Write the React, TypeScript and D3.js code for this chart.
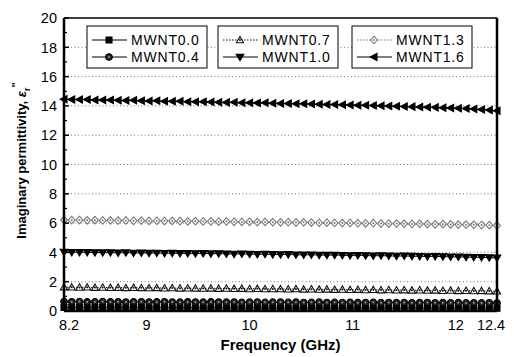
import * as d3 from 'd3';
import React from 'react';

// frequency grid (GHz)
const freq = [8.2, 8.275, 8.35, 8.425, 8.5, 8.575, 8.65, 8.725, 8.8, 8.875, 8.95, 9.025, 9.1, 9.175, 9.25, 9.325, 9.4, 9.475, 9.55, 9.625,
  9.7, 9.775, 9.85, 9.925, 10, 10.075, 10.15, 10.225, 10.3, 10.375, 10.45, 10.525, 10.6, 10.675, 10.75, 10.825, 10.9, 10.975, 11.05, 11.125,
  11.2, 11.275, 11.35, 11.425, 11.5, 11.575, 11.65, 11.725, 11.8, 11.875, 11.95, 12.025, 12.1, 12.175, 12.25, 12.325, 12.4];

const mwnt00 = [0.24, 0.23, 0.24, 0.22, 0.23, 0.24, 0.22, 0.23, 0.22, 0.23, 0.24, 0.22, 0.22, 0.23, 0.21, 0.22, 0.23, 0.22, 0.21, 0.22,
  0.23, 0.21, 0.22, 0.21, 0.22, 0.23, 0.21, 0.22, 0.21, 0.20, 0.22, 0.21, 0.22, 0.20, 0.21, 0.22, 0.20, 0.21, 0.20, 0.22,
  0.21, 0.20, 0.21, 0.20, 0.21, 0.22, 0.20, 0.21, 0.20, 0.21, 0.20, 0.19, 0.21, 0.20, 0.19, 0.20, 0.19];
const mwnt04 = [0.64, 0.63, 0.64, 0.62, 0.63, 0.64, 0.62, 0.63, 0.61, 0.62, 0.63, 0.61, 0.62, 0.63, 0.61, 0.60, 0.62, 0.61, 0.60, 0.62,
  0.61, 0.60, 0.61, 0.59, 0.60, 0.61, 0.59, 0.60, 0.61, 0.59, 0.60, 0.58, 0.59, 0.60, 0.58, 0.59, 0.58, 0.59, 0.57, 0.58,
  0.59, 0.57, 0.58, 0.57, 0.58, 0.56, 0.57, 0.58, 0.56, 0.57, 0.56, 0.57, 0.55, 0.56, 0.55, 0.56, 0.54];
const mwnt07 = [1.63, 1.62, 1.61, 1.62, 1.60, 1.61, 1.59, 1.60, 1.58, 1.59, 1.58, 1.57, 1.58, 1.56, 1.57, 1.55, 1.56, 1.55, 1.54, 1.55,
  1.53, 1.54, 1.52, 1.53, 1.51, 1.52, 1.50, 1.51, 1.50, 1.49, 1.50, 1.48, 1.49, 1.47, 1.48, 1.46, 1.47, 1.45, 1.46, 1.44,
  1.45, 1.43, 1.44, 1.42, 1.43, 1.41, 1.42, 1.40, 1.41, 1.39, 1.40, 1.38, 1.39, 1.37, 1.38, 1.36, 1.35];
const mwnt10 = [4.02, 4.01, 4.00, 4.01, 3.99, 3.98, 3.99, 3.97, 3.98, 3.96, 3.97, 3.95, 3.96, 3.94, 3.95, 3.93, 3.94, 3.92, 3.93, 3.91,
  3.92, 3.90, 3.89, 3.90, 3.88, 3.87, 3.88, 3.86, 3.85, 3.86, 3.84, 3.83, 3.84, 3.82, 3.81, 3.82, 3.80, 3.79, 3.80, 3.78,
  3.77, 3.78, 3.76, 3.75, 3.76, 3.74, 3.73, 3.72, 3.73, 3.71, 3.70, 3.69, 3.68, 3.67, 3.66, 3.64, 3.62];
const mwnt13 = [6.22, 6.20, 6.21, 6.19, 6.20, 6.18, 6.19, 6.17, 6.18, 6.16, 6.17, 6.15, 6.16, 6.14, 6.15, 6.13, 6.12, 6.13, 6.11, 6.12,
  6.10, 6.11, 6.09, 6.08, 6.09, 6.07, 6.08, 6.06, 6.05, 6.06, 6.04, 6.05, 6.03, 6.02, 6.03, 6.01, 6.00, 6.01, 5.99, 5.98,
  5.99, 5.97, 5.96, 5.97, 5.95, 5.94, 5.95, 5.93, 5.92, 5.93, 5.91, 5.90, 5.89, 5.88, 5.87, 5.86, 5.84];
const mwnt16 = [14.46, 14.44, 14.43, 14.44, 14.41, 14.40, 14.41, 14.38, 14.37, 14.38, 14.35, 14.34, 14.35, 14.32, 14.31, 14.32, 14.29, 14.28, 14.29, 14.26,
  14.25, 14.24, 14.25, 14.22, 14.21, 14.20, 14.21, 14.18, 14.17, 14.16, 14.15, 14.14, 14.13, 14.12, 14.10, 14.09, 14.08, 14.06, 14.05, 14.04,
  14.02, 14.01, 13.99, 13.98, 13.96, 13.95, 13.93, 13.91, 13.90, 13.88, 13.86, 13.84, 13.82, 13.79, 13.76, 13.72, 13.67];

const xTicks = [8.2, 9, 10, 11, 12, 12.4];
const yTicks = [0, 2, 4, 6, 8, 10, 12, 14, 16, 18, 20];

const W = 514, H = 357;
const margin = { top: 18, right: 17, bottom: 46, left: 64 };

// marker shapes, centred on 0,0
const markers = {
  square: 'M-3,-3H3V3H-3Z',
  circle: 'M-3.3,0A3.3,3.3 0 1,0 3.3,0A3.3,3.3 0 1,0 -3.3,0Z',
  up: 'M0,-3.6L3.6,2.8H-3.6Z',
  down: 'M0,3.6L3.8,-2.8H-3.8Z',
  diamond: 'M0,-3.8L3.4,0L0,3.8L-3.4,0Z',
  left: 'M-3.8,0L3,-3.6V3.6Z',
};

const series = [
  { name: 'MWNT0.0', values: mwnt00, shape: 'square', fill: '#000', stroke: '#000', dash: null, col: 0, row: 0 },
  { name: 'MWNT0.4', values: mwnt04, shape: 'circle', fill: '#222', stroke: '#000', dash: null, col: 0, row: 1, dot: true },
  { name: 'MWNT0.7', values: mwnt07, shape: 'up', fill: '#fff', stroke: '#111', dash: '1.5,1.5', col: 1, row: 0, dot: true },
  { name: 'MWNT1.0', values: mwnt10, shape: 'down', fill: '#000', stroke: '#000', dash: null, col: 1, row: 1 },
  { name: 'MWNT1.3', values: mwnt13, shape: 'diamond', fill: '#fff', stroke: '#777', dash: '1.5,1.5', col: 2, row: 0, dot: true },
  { name: 'MWNT1.6', values: mwnt16, shape: 'left', fill: '#000', stroke: '#000', dash: null, col: 2, row: 1 },
];

const legendBoxes = [87, 218, 352];

const Marker = ({ s, x, y }: any) => (
  <g transform={`translate(${x},${y})`}>
    <path d={markers[s.shape]} fill={s.fill} stroke={s.stroke} strokeWidth={1.1} />
    {s.dot && <circle r={1} fill={s.shape === 'circle' ? '#999' : s.stroke} />}
  </g>
);

export default function App() {
  const x = d3.scaleLinear().domain([8.2, 12.4]).range([margin.left, W - margin.right]);
  const y = d3.scaleLinear().domain([0, 20]).range([H - margin.bottom, margin.top]);
  const line = d3.line<number>().x((_, i) => x(freq[i])).y(d => y(d));
  const x0 = x.range()[0], x1 = x.range()[1], yb = y.range()[0], yt = y.range()[1];
  const minor = d3.range(1, 20, 2);

  return (
    <svg width={W} height={H} style={{ position: 'absolute', left: 0, top: 0, background: '#fff' }}
      fontFamily="'Liberation Sans', Arial, sans-serif">
      {/* grid */}
      {yTicks.filter(t => t > 0 && t < 20).map(t => (
        <line key={t} x1={x0} x2={x1} y1={y(t)} y2={y(t)} stroke="#777" strokeWidth={1} strokeDasharray="1,2.5" />
      ))}

      {/* series */}
      {series.map(s => (
        <g key={s.name}>
          <path d={line(s.values) || ''} fill="none" stroke={s.stroke} strokeWidth={1} strokeDasharray={s.dash || undefined} />
          {s.values.map((v, i) => <Marker key={i} s={s} x={x(freq[i])} y={y(v)} />)}
        </g>
      ))}

      {/* frame */}
      <line x1={x0} x2={x1} y1={yt} y2={yt} stroke="#000" strokeWidth={1.5} />
      <line x1={x0} x2={x1} y1={yb} y2={yb} stroke="#000" strokeWidth={2.5} />
      <line x1={x0} x2={x0} y1={yt} y2={yb} stroke="#000" strokeWidth={2.5} />
      <line x1={x1} x2={x1} y1={yt} y2={yb} stroke="#000" strokeWidth={2.5} />

      {/* y ticks */}
      {yTicks.map(t => (
        <g key={t}>
          <line x1={x0} x2={x0 + 5} y1={y(t)} y2={y(t)} stroke="#000" strokeWidth={1.5} />
          <text x={x0 - 7} y={y(t)} dy="0.36em" textAnchor="end" fontSize={14.5}>{t}</text>
        </g>
      ))}
      {minor.map(t => (
        <line key={t} x1={x0} x2={x0 + 3} y1={y(t)} y2={y(t)} stroke="#000" strokeWidth={1.2} />
      ))}

      {/* x ticks */}
      {xTicks.map(t => (
        <text key={t} x={x(t) + (t === 8.2 ? 5 : t === 12.4 ? -6 : 0)} y={yb + 19} textAnchor="middle" fontSize={14.5}>{t}</text>
      ))}

      {/* axis titles */}
      <text x={(x0 + x1) / 2} y={H - 7} textAnchor="middle" fontSize={15} fontWeight="bold">Frequency (GHz)</text>
      <text transform={`translate(26,${(yt + yb) / 2 - 4}) rotate(-90)`} textAnchor="middle" fontSize={13} fontWeight="bold">
        Imaginary permittivity, <tspan fontStyle="italic">ε</tspan><tspan fontSize={9} dy={4}>r</tspan><tspan dy={-10} fontSize={11}>"</tspan>
      </text>

      {/* legend */}
      {legendBoxes.map((bx, c) => (
        <g key={c}>
          <rect x={bx} y={26} width={120} height={42} fill="#fff" stroke="#000" strokeWidth={1} />
          {series.filter(s => s.col === c).map(s => {
            const ly = 40 + s.row * 17;
            return (
              <g key={s.name}>
                <line x1={bx + 5} x2={bx + 40} y1={ly} y2={ly} stroke={s.stroke} strokeWidth={1} strokeDasharray={s.dash || undefined} />
                <Marker s={s} x={bx + 22} y={ly} />
                <text x={bx + 44} y={ly} dy="0.36em" fontSize={14} letterSpacing={0.8}>{s.name}</text>
              </g>
            );
          })}
        </g>
      ))}
    </svg>
  );
}
